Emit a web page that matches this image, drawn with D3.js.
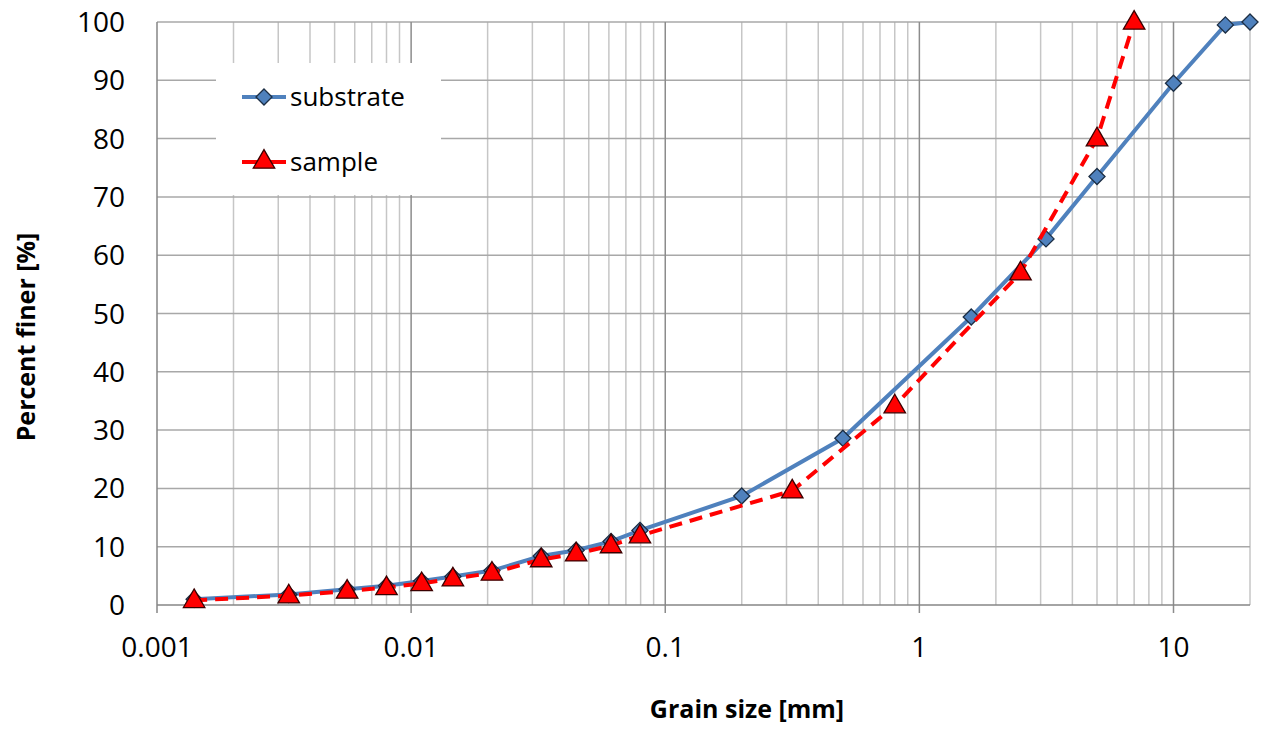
<!DOCTYPE html>
<html>
<head>
<meta charset="utf-8">
<script src="https://cdn.jsdelivr.net/npm/d3@7"></script>
<style>
  body { margin: 0; background: #fff; }
  text { font-family: "Open Sans", sans-serif; fill: #000; }
</style>
</head>
<body>
<svg id="chart" width="1263" height="732"></svg>
<script>
// data
let substrateSize = [0.0014, 0.0033, 0.0056, 0.008, 0.011, 0.0146, 0.0208, 0.0325, 0.0446, 0.0612, 0.0795, 0.2, 0.5, 1.6, 3.15, 5, 10, 16, 20];
let substratePct = [1.0, 1.8, 2.7, 3.3, 4.1, 4.9, 5.9, 8.4, 9.4, 10.9, 12.8, 18.7, 28.6, 49.4, 62.8, 73.5, 89.5, 99.5, 100];
let sampleSize = [0.0014, 0.0033, 0.0056, 0.008, 0.011, 0.0146, 0.0208, 0.0325, 0.0446, 0.0612, 0.0795, 0.316, 0.8, 2.5, 5, 7];
let samplePct = [0.8, 1.6, 2.4, 3.0, 3.7, 4.5, 5.5, 7.8, 8.8, 10.2, 11.9, 19.6, 34.2, 57, 80, 100];
let xTicks = [0.001, 0.01, 0.1, 1, 10];
let xTickLabels = ["0.001", "0.01", "0.1", "1", "10"];
let yTicks = [0, 10, 20, 30, 40, 50, 60, 70, 80, 90, 100];

let svg = d3.select("#chart");

let x = d3.scaleLog().domain([0.001, 20]).range([157, 1250]);
let y = d3.scaleLinear().domain([0, 100]).range([605, 22]);

// minor vertical grid
let grid = svg.append("g");
grid.selectAll(".minor")
    .data(x.ticks().filter(d => xTicks.indexOf(d) < 0))
    .enter().append("line")
    .attr("x1", d => x(d)).attr("x2", d => x(d))
    .attr("y1", y(100)).attr("y2", y(0))
    .attr("stroke", "#c6c6c6").attr("stroke-width", 1.5);

// horizontal grid
grid.selectAll(".hgrid")
    .data(yTicks.slice(1))
    .enter().append("line")
    .attr("x1", x(0.001)).attr("x2", x(20))
    .attr("y1", d => y(d)).attr("y2", d => y(d))
    .attr("stroke", "#a8a8a8").attr("stroke-width", 1.5);

// decade grid
grid.selectAll(".major")
    .data(xTicks.slice(1))
    .enter().append("line")
    .attr("x1", d => x(d)).attr("x2", d => x(d))
    .attr("y1", y(100)).attr("y2", y(0) + 8)
    .attr("stroke", "#8c8c8c").attr("stroke-width", 1.5);

// axes
svg.append("line")
    .attr("x1", x(0.001)).attr("x2", x(0.001))
    .attr("y1", y(100)).attr("y2", y(0) + 8)
    .attr("stroke", "#868686").attr("stroke-width", 1.5);
svg.append("line")
    .attr("x1", x(0.001)).attr("x2", x(20))
    .attr("y1", y(0)).attr("y2", y(0))
    .attr("stroke", "#868686").attr("stroke-width", 1.5);

// legend box covers grid
svg.append("rect")
    .attr("x", 216).attr("y", 63).attr("width", 225).attr("height", 132)
    .attr("fill", "#fff");

// tick labels
svg.append("g").selectAll("text")
    .data(xTicks)
    .enter().append("text")
    .attr("x", d => x(d)).attr("y", 657)
    .attr("text-anchor", "middle")
    .style("font-size", "28px")
    .text((d, i) => xTickLabels[i]);

svg.append("g").selectAll("text")
    .data(yTicks)
    .enter().append("text")
    .attr("x", 125).attr("y", d => y(d) + 10)
    .attr("text-anchor", "end")
    .style("font-size", "28px")
    .text(d => d);

// axis titles
svg.append("text")
    .attr("x", 747).attr("y", 718)
    .attr("text-anchor", "middle")
    .style("font-size", "25px").style("font-weight", "bold")
    .text("Grain size [mm]");
svg.append("text")
    .attr("transform", "translate(35,337) rotate(-90)")
    .attr("text-anchor", "middle")
    .style("font-size", "25px").style("font-weight", "bold")
    .text("Percent finer [%]");

let blue = "#4f81bd", red = "#ff0000";
let diamond = d3.symbol().type(d3.symbolDiamond2).size(165);
let triangle = d3.symbol().type(d3.symbolTriangle).size(200);

let line = d3.line().x(d => x(d[0])).y(d => y(d[1]));
let subData = d3.zip(substrateSize, substratePct);
let samData = d3.zip(sampleSize, samplePct);

svg.append("path")
    .attr("d", line(subData))
    .attr("fill", "none").attr("stroke", blue).attr("stroke-width", 4);
svg.selectAll(".dia")
    .data(subData)
    .enter().append("path")
    .attr("d", diamond)
    .attr("transform", d => "translate(" + x(d[0]) + "," + y(d[1]) + ")")
    .attr("fill", blue).attr("stroke", "#1c2e44").attr("stroke-width", 1.3);

svg.append("path")
    .attr("d", line(samData))
    .attr("fill", "none").attr("stroke", red).attr("stroke-width", 4)
    .attr("stroke-dasharray", "13,8");
svg.selectAll(".tri")
    .data(samData)
    .enter().append("path")
    .attr("d", triangle)
    .attr("transform", d => "translate(" + x(d[0]) + "," + (y(d[1]) + 1) + ")")
    .attr("fill", red).attr("stroke", "#3a0000").attr("stroke-width", 1.3);

// legend
let legend = [["substrate", blue, diamond, 97], ["sample", red, triangle, 162]];
legend.forEach(l => {
    svg.append("line")
        .attr("x1", 242).attr("x2", 286).attr("y1", l[3]).attr("y2", l[3])
        .attr("stroke", l[1]).attr("stroke-width", 4);
    svg.append("path")
        .attr("d", l[2])
        .attr("transform", "translate(264," + l[3] + ")")
        .attr("fill", l[1]).attr("stroke", l[0] == "sample" ? "#3a0000" : "#1c2e44").attr("stroke-width", 1.3);
    svg.append("text")
        .attr("x", 290).attr("y", l[3] + 9)
        .style("font-size", "26px")
        .text(l[0]);
});
</script>
</body>
</html>
